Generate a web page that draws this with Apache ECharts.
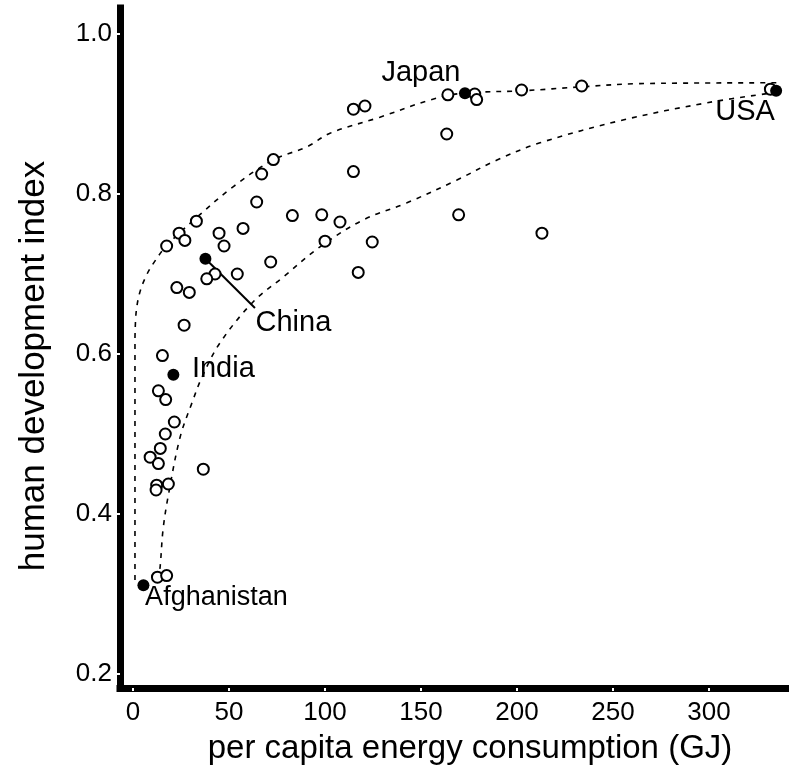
<!DOCTYPE html>
<html>
<head>
<meta charset="utf-8">
<script src="https://cdn.jsdelivr.net/npm/echarts@6/dist/echarts.min.js"></script>
<style>
  html, body { margin: 0; padding: 0; background: #fff; }
  #chart { width: 789px; height: 779px; }
</style>
</head>
<body>
<div id="chart"></div>
<script>
// tick labels
const xTicks = [0, 50, 100, 150, 200, 250, 300];
const yTicks = [0.2, 0.4, 0.6, 0.8, 1.0];

// open circles: [GJ per capita, HDI]
const otherCountries = [
  [17.5, 0.735], [24, 0.751], [27, 0.742], [33, 0.766], [44.8, 0.751],
  [47.4, 0.735], [57.3, 0.757], [64.4, 0.790], [83, 0.773], [42.7, 0.700],
  [38.4, 0.694], [54.3, 0.700], [71.7, 0.715], [22.8, 0.683], [29.3, 0.677],
  [26.6, 0.636], [15.3, 0.598], [13.2, 0.554], [17, 0.543], [21.5, 0.515],
  [16.8, 0.500], [14.2, 0.482], [8.9, 0.471], [13.2, 0.463], [36.6, 0.456],
  [12.3, 0.436], [18.4, 0.4375], [12, 0.430], [12.7, 0.321], [17.5, 0.323],
  [114.8, 0.906], [120.8, 0.910], [164, 0.924], [178, 0.925], [179, 0.918],
  [202.4, 0.930], [233.7, 0.935], [163.4, 0.875], [73.1, 0.843], [67, 0.825],
  [114.8, 0.828], [98.3, 0.774], [107.8, 0.765], [100, 0.741], [124.6, 0.740],
  [117.3, 0.702], [169.6, 0.774], [213, 0.751], [332, 0.931]
];

// named countries (filled dots)
const namedCountries = ['Afghanistan', 'India', 'China', 'Japan', 'USA'];
const namedValues = [[5.4, 0.311], [21, 0.574], [37.7, 0.719], [172.9, 0.926], [335, 0.929]];

// dashed envelope curves
const upperStem = [[1, 0.3175], [1, 0.62]];
const upperCurve = [
  [1, 0.62], [1.6, 0.652], [3.4, 0.676], [6.5, 0.696], [10.5, 0.713], [17.7, 0.736],
  [33.3, 0.771], [52.1, 0.809], [72.9, 0.8425], [90.6, 0.859], [102.6, 0.876],
  [128.6, 0.896], [154.7, 0.9175], [171.9, 0.926], [202.6, 0.929], [233.9, 0.934],
  [264, 0.938], [335.4, 0.939]
];
const lowerCurve = [
  [13, 0.3175], [14.1, 0.334], [15.6, 0.38], [18.2, 0.421], [24.5, 0.496],
  [30.7, 0.539], [35.9, 0.571], [45.3, 0.614], [62.5, 0.665], [78.1, 0.696],
  [97.4, 0.734], [119.8, 0.7675], [142.7, 0.789], [168.75, 0.8175], [189.6, 0.8425],
  [212, 0.864], [255.2, 0.8925], [299, 0.914], [331.8, 0.926]
];
const chinaLeader = [[37.7, 0.719], [63.5, 0.6575]];

// label offsets from each dot (pixels)
const labelOffsets = {
  Afghanistan: [73, 12],
  India: [50, -6],
  China: [88, 64],
  Japan: [-44, -20],
  USA: [-31, 21]
};

const font = 'Liberation Sans, Arial, Helvetica, sans-serif';
const chart = echarts.init(document.getElementById('chart'));

const dashed = { color: '#000', width: 1.6, type: [5, 6] };

const option = {
  backgroundColor: '#fff',
  animation: false,
  grid: { left: 120, right: 0, top: 8, bottom: 91 },
  xAxis: {
    type: 'value',
    min: -6.8,
    max: 341.7,
    name: 'per capita energy consumption (GJ)',
    nameLocation: 'middle',
    nameGap: 44,
    nameTextStyle: { color: '#000', fontSize: 33, fontFamily: font, padding: [0, 0, 0, 31] },
    axisLine: { onZero: false, lineStyle: { color: '#000', width: 7, cap: 'square' } },
    axisTick: { show: true, customValues: xTicks, length: 3, lineStyle: { color: '#fff', width: 2 } },
    axisLabel: { customValues: xTicks, color: '#000', fontSize: 26, fontFamily: font, margin: 12 },
    splitLine: { show: false }
  },
  yAxis: {
    type: 'value',
    min: 0.1825,
    max: 1.0325,
    name: 'human development index',
    nameLocation: 'middle',
    nameGap: 68,
    nameTextStyle: { color: '#000', fontSize: 35, fontFamily: font, padding: [0, 36, 0, 0] },
    axisLine: { onZero: false, lineStyle: { color: '#000', width: 7, cap: 'square' } },
    axisTick: { show: true, customValues: yTicks, length: 3, lineStyle: { color: '#fff', width: 2 } },
    axisLabel: {
      customValues: yTicks, color: '#000', fontSize: 26, fontFamily: font, margin: 8,
      formatter: v => v.toFixed(1)
    },
    splitLine: { show: false }
  },
  series: [
    { type: 'line', data: upperStem, symbol: 'none', z: 1, lineStyle: dashed },
    { type: 'line', data: upperCurve, smooth: 0.35, symbol: 'none', z: 1, lineStyle: dashed },
    { type: 'line', data: lowerCurve, smooth: 0.35, symbol: 'none', z: 1, lineStyle: dashed },
    {
      type: 'line', data: chinaLeader, symbol: 'none', z: 2,
      lineStyle: { color: '#000', width: 2 }
    },
    {
      type: 'scatter', data: otherCountries, symbol: 'circle', symbolSize: 11, z: 3,
      itemStyle: { color: '#fff', borderColor: '#000', borderWidth: 2, opacity: 1 }
    },
    {
      type: 'scatter', symbol: 'circle', symbolSize: 12, z: 4,
      itemStyle: { color: '#000', opacity: 1 },
      data: namedCountries.map((n, i) => ({
        name: n,
        value: namedValues[i],
        label: {
          show: true, position: 'inside', offset: labelOffsets[n],
          fontSize: n === 'Afghanistan' ? 27 : 29
        }
      })),
      label: { formatter: '{b}', color: '#000', fontFamily: font }
    }
  ]
};

chart.setOption(option);
</script>
</body>
</html>
